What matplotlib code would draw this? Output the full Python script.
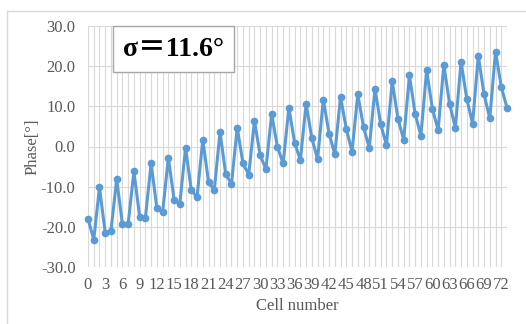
import matplotlib
matplotlib.use("Agg")
import matplotlib.pyplot as plt
from matplotlib.patches import Rectangle
import numpy as np

cells = list(range(74))
phase = [-18.0, -23.2, -10.2, -21.5, -21.0, -8.1, -19.4, -19.2, -6.2, -17.5,
         -17.7, -4.2, -15.4, -16.4, -2.8, -13.2, -14.2, -0.3, -10.9, -12.6,
         1.7, -8.8, -10.9, 3.6, -6.9, -9.3, 4.7, -4.2, -7.0, 6.4,
         -2.2, -5.6, 8.1, -0.1, -4.2, 9.7, 0.9, -3.4, 10.7, 2.0,
         -3.1, 11.7, 3.2, -1.9, 12.4, 4.4, -1.3, 13.0, 4.9, -0.4,
         14.4, 5.5, 0.4, 16.3, 6.9, 1.7, 17.7, 8.1, 2.7, 19.0,
         9.4, 4.1, 20.3, 10.6, 4.7, 21.1, 11.8, 5.7, 22.6, 13.0,
         7.0, 23.6, 14.9, 9.6]
xtick_vals = list(range(0, 73, 3))
ytick_vals = [-30, -20, -10, 0, 10, 20, 30]
annotation = "σ＝11.6°"

W, H = 526, 324
fig = plt.figure(figsize=(W/100, H/100), dpi=100)
fig.patch.set_facecolor("white")

# outer chart frame
fig.patches.append(Rectangle((7/W, -0.1), 1.2, 1 - 11/H + 0.1, transform=fig.transFigure,
                             fill=False, edgecolor="#d9d9d9", linewidth=1.0))

ax = fig.add_axes([88/W, 1 - 267/H, (507-88)/W, (267-26)/H])
ax.set_xlim(0, 73)
ax.set_ylim(-30, 30)
for s in ax.spines.values():
    s.set_visible(False)

for c in cells:
    ax.axvline(c, color="#d9d9d9", linewidth=0.8, zorder=0)
for v in ytick_vals:
    ax.axhline(v, color="#d9d9d9", linewidth=0.8, zorder=0)

ax.plot(cells, phase, color="#5b9bd5", linewidth=2.2, marker="o", markersize=4.5,
        zorder=3, clip_on=False)

serif = "Liberation Serif"
fs = 12
ax.set_xticks(xtick_vals)
ax.set_xticklabels([str(v) for v in xtick_vals], fontfamily=serif, fontsize=fs, color="#595959")
ax.set_yticks(ytick_vals)
ax.set_yticklabels([f"{v:.1f}" for v in ytick_vals], fontfamily=serif, fontsize=fs, color="#595959")
ax.tick_params(axis="x", length=0, pad=7)
ax.tick_params(axis="y", length=0, pad=9)
ax.set_xlabel("Cell number", fontfamily=serif, fontsize=fs, color="#595959", labelpad=4)
ax.set_ylabel("Phase[°]", fontfamily=serif, fontsize=fs, color="#595959", labelpad=0)

# annotation box
fig.patches.append(Rectangle((113/W, 1 - 72/H), (234-113)/W, (72-26)/H, transform=fig.transFigure,
                             facecolor="white", edgecolor="#a6a6a6", linewidth=1.0, zorder=5))
fig.text((113+234)/2/W, 1 - 49/H, annotation, ha="center", va="center",
         fontfamily=[serif, "Noto Sans CJK JP"], fontweight="bold", fontsize=20,
         color="black", zorder=6)

fig.savefig("out.png", dpi=100)
